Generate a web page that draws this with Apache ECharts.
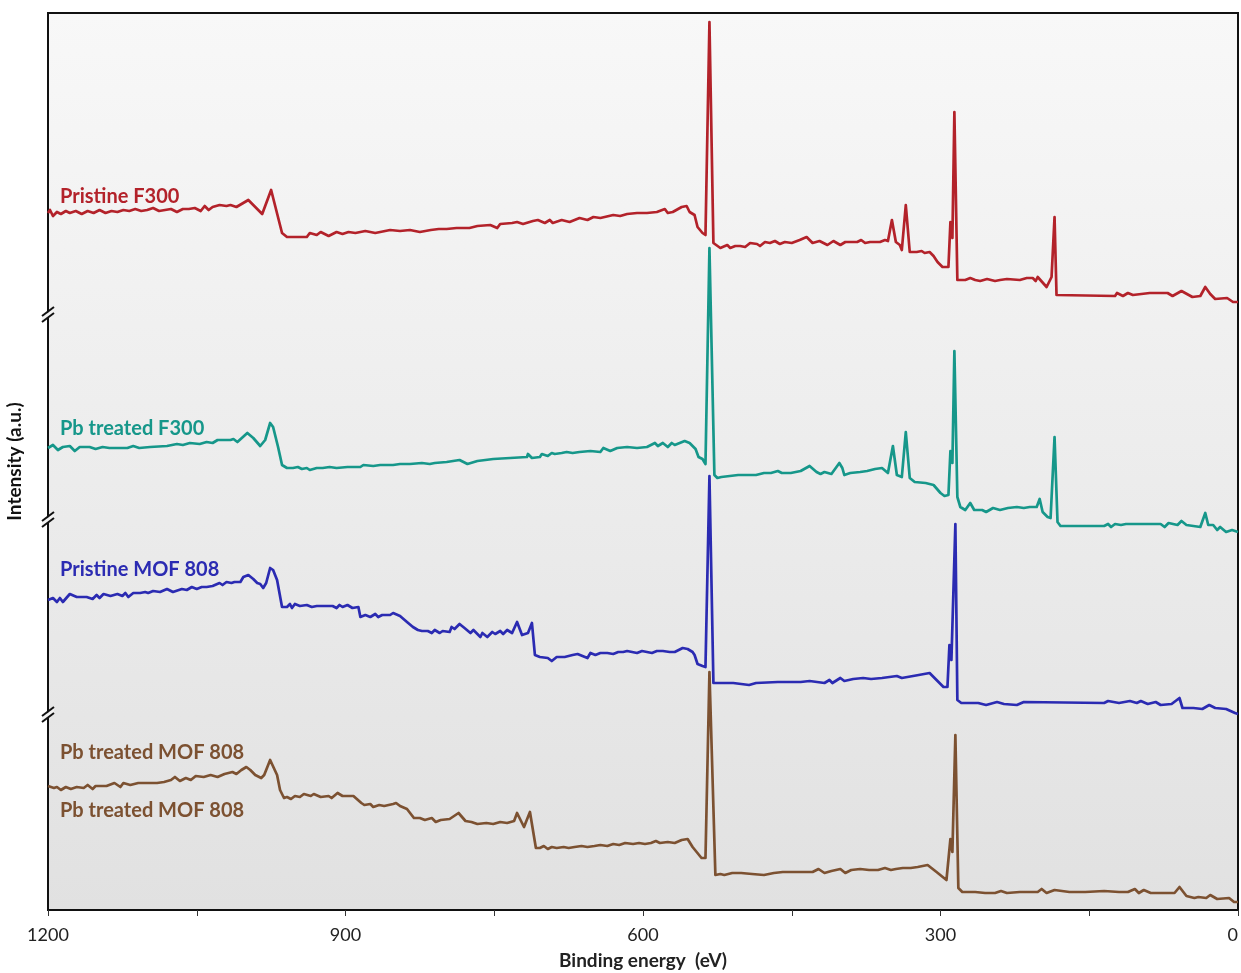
<!DOCTYPE html>
<html>
<head>
<meta charset="utf-8">
<script src="https://cdn.jsdelivr.net/npm/echarts@6/dist/echarts.min.js"></script>
<style>
  html, body { margin: 0; padding: 0; background: #ffffff; }
  #chart { width: 1241px; height: 973px; }
</style>
</head>
<body>
<div id="chart"></div>
<script>
// Binding energy (eV) and offset intensity (a.u.)
const xTicks = [1200, 900, 600, 300, 0];
const seriesNames = ['Pristine F300', 'Pb treated F300', 'Pristine MOF 808', 'Pb treated MOF 808'];
const seriesColors = ['#b3222a', '#16978a', '#2b2bb2', '#7c5131'];

const pristineF300 = [[1200,697],[1198,700],[1195,694],[1191,698],[1187,696],[1182,699],[1178,697],[1172,699],[1166,696],[1160,699],[1154,697],[1148,700],[1142,697],[1136,699],[1130,698],[1124,700],[1118,699],[1112,701],[1106,699],[1100,700],[1094,702],[1088,699],[1082,700],[1076,701],[1070,698],[1064,701],[1058,701],[1052,702],[1046,699],[1042,704],[1038,700],[1034,703],[1027,705],[1020,704],[1016,705],[1010,703],[998,710],[984,696],[975,720],[964,677],[959,673],[950,673],[939,673],[936,677],[929,675],[925,678],[917,674],[909,678],[903,676],[897,678],[890,677],[880,679],[870,677],[865,678],[855,680],[845,679],[835,680],[825,678],[814,680],[806,681],[798,681],[788,682],[775,682],[767,684],[754,685],[747,682],[744,686],[732,687],[727,688],[721,686],[711,689],[706,690],[699,687],[694,690],[691,687],[682,690],[674,688],[664,692],[656,690],[650,693],[643,692],[630,695],[623,694],[616,696],[606,697],[596,697],[586,698],[578,701],[575,697],[570,698],[561,703],[556,704],[553,698],[548,695],[545,683],[540,677],[537,675],[533,888],[529,667],[522,662],[515,665],[512,662],[507,664],[502,664],[497,663],[492,667],[485,666],[482,664],[477,668],[472,667],[467,669],[462,666],[457,668],[450,667],[442,670],[435,673],[429,667],[422,669],[414,665],[408,669],[401,665],[396,668],[384,668],[380,670],[376,667],[371,668],[361,668],[356,670],[353,669],[349,690],[345,668],[341,665],[339,660],[335,705],[331,658],[324,658],[319,659],[316,657],[311,658],[307,654],[303,648],[298,643],[292,643],[290,688],[288,672],[286,798],[283,630],[275,630],[270,632],[265,630],[260,629],[253,631],[245,629],[240,630],[233,631],[220,630],[213,632],[207,632],[204,629],[202,633],[193,623],[188,633],[185,693],[183,615],[124,614],[122,617],[116,614],[111,617],[106,615],[89,617],[71,617],[66,614],[57,619],[46,613],[38,614],[33,623],[28,616],[23,611],[11,612],[5,608],[0,608]];

const pbTreatedF300 = [[1200,462],[1198,463],[1195,465],[1190,460],[1185,463],[1178,464],[1173,459],[1168,463],[1158,463],[1152,461],[1145,463],[1138,462],[1120,462],[1114,464],[1108,462],[1097,463],[1080,464],[1070,466],[1064,465],[1057,467],[1047,466],[1040,468],[1034,467],[1029,470],[1016,470],[1013,471],[1009,468],[999,477],[993,472],[986,464],[981,470],[976,487],[973,483],[968,463],[964,445],[959,442],[953,442],[948,443],[944,441],[939,442],[936,440],[929,442],[923,442],[916,443],[909,442],[898,443],[885,443],[882,445],[872,444],[865,445],[852,445],[845,446],[835,446],[823,447],[815,446],[810,447],[798,448],[785,450],[777,446],[767,449],[751,451],[717,453],[716,456],[712,452],[704,453],[702,456],[696,454],[692,457],[689,456],[682,457],[677,458],[671,457],[664,458],[653,459],[643,458],[640,462],[633,459],[626,462],[616,463],[606,462],[596,463],[588,467],[585,464],[580,467],[575,463],[571,467],[568,465],[558,469],[553,467],[547,461],[544,453],[540,451],[537,446],[533,662],[528,435],[525,432],[521,433],[504,435],[493,435],[486,435],[478,437],[471,437],[464,439],[460,437],[451,437],[441,439],[432,444],[425,438],[421,436],[417,438],[410,436],[402,447],[399,442],[397,435],[391,437],[381,438],[374,439],[366,441],[359,442],[353,437],[348,464],[344,435],[339,433],[335,478],[331,432],[326,428],[315,427],[307,425],[300,417],[296,414],[292,415],[290,459],[288,447],[286,559],[283,413],[280,403],[275,400],[270,407],[266,400],[258,400],[254,398],[247,402],[240,400],[232,402],[223,403],[216,402],[210,403],[203,403],[200,411],[197,398],[192,393],[189,392],[185,473],[182,388],[179,384],[135,384],[131,386],[128,383],[124,386],[118,385],[113,386],[78,386],[76,388],[74,383],[70,387],[61,385],[57,389],[52,385],[38,383],[33,397],[30,385],[25,385],[21,380],[18,383],[12,378],[6,380],[0,378]];

const pristineMOF808 = [[1200,310],[1199,310],[1195,312],[1191,308],[1188,312],[1185,308],[1178,316],[1171,313],[1161,313],[1155,311],[1151,315],[1148,312],[1144,316],[1137,314],[1130,316],[1125,314],[1122,317],[1119,313],[1114,317],[1107,317],[1102,318],[1099,317],[1094,319],[1087,318],[1080,321],[1074,318],[1065,321],[1060,320],[1055,323],[1050,321],[1045,323],[1040,323],[1034,324],[1027,327],[1024,325],[1020,328],[1015,327],[1012,328],[1006,328],[1003,333],[998,335],[993,331],[989,327],[986,326],[983,322],[980,327],[976,342],[973,340],[969,330],[964,303],[959,303],[956,306],[954,302],[951,306],[946,304],[939,305],[934,303],[929,304],[913,304],[909,302],[906,305],[903,303],[898,305],[893,302],[887,303],[885,293],[880,295],[875,293],[870,296],[867,293],[863,295],[855,295],[852,297],[845,294],[838,288],[832,283],[827,280],[823,279],[817,279],[813,277],[810,280],[805,277],[802,279],[795,278],[793,283],[790,281],[785,286],[780,282],[774,277],[771,280],[764,273],[762,277],[757,273],[752,278],[749,276],[744,279],[741,276],[737,280],[732,277],[727,288],[722,275],[716,277],[712,287],[709,255],[704,253],[696,252],[692,249],[687,253],[679,253],[677,255],[671,255],[666,256],[656,252],[653,257],[648,255],[643,257],[636,257],[630,256],[625,258],[620,258],[616,259],[606,257],[601,259],[596,258],[591,257],[586,259],[580,259],[573,258],[568,258],[560,262],[555,261],[550,258],[548,255],[545,246],[540,244],[537,243],[533,434],[529,227],[527,227],[512,227],[509,227],[493,225],[486,227],[464,228],[441,228],[432,229],[417,227],[412,230],[409,227],[401,232],[397,229],[388,231],[378,232],[370,231],[359,232],[344,234],[339,232],[322,235],[311,237],[304,230],[297,223],[293,223],[291,265],[289,250],[285,386],[283,210],[279,207],[262,207],[254,205],[243,208],[236,206],[223,205],[216,208],[135,207],[131,209],[120,207],[109,209],[102,207],[98,209],[91,206],[83,208],[78,205],[67,206],[59,212],[56,202],[45,202],[36,201],[29,205],[23,202],[12,201],[3,197],[0,196]];

const pbTreatedMOF808 = [[1200,124],[1194,122],[1191,123],[1187,120],[1182,123],[1177,121],[1171,123],[1164,122],[1160,125],[1155,121],[1152,124],[1141,124],[1133,127],[1127,123],[1124,127],[1117,125],[1109,127],[1101,127],[1090,127],[1083,128],[1076,130],[1072,133],[1067,129],[1061,132],[1056,130],[1051,134],[1043,133],[1036,135],[1029,133],[1022,136],[1014,138],[1010,136],[1005,140],[1000,143],[996,140],[991,135],[985,132],[982,135],[976,150],[969,135],[966,120],[962,112],[959,113],[955,111],[951,114],[946,113],[942,116],[935,114],[932,116],[925,113],[917,114],[914,112],[908,117],[903,114],[892,114],[884,107],[881,105],[875,106],[872,103],[866,105],[861,104],[852,106],[849,107],[845,104],[838,101],[831,92],[825,92],[820,90],[813,92],[809,88],[804,90],[795,91],[786,97],[779,89],[773,88],[767,86],[758,87],[751,86],[744,88],[737,87],[730,89],[727,97],[720,83],[714,98],[708,62],[704,62],[700,64],[696,61],[692,63],[687,62],[680,63],[675,62],[669,63],[662,64],[656,63],[649,64],[643,65],[636,64],[630,66],[624,65],[618,67],[610,66],[604,67],[598,66],[592,67],[587,69],[583,67],[575,68],[568,67],[561,70],[555,71],[550,63],[541,52],[537,52],[533,238],[527,35],[522,36],[518,35],[510,37],[501,37],[490,36],[478,35],[468,37],[459,38],[445,38],[429,38],[423,41],[417,37],[410,39],[401,41],[396,37],[390,40],[381,41],[372,40],[363,40],[356,42],[350,40],[345,41],[338,42],[330,42],[323,43],[313,45],[304,38],[294,30],[290,71],[288,58],[285,175],[282,22],[278,18],[265,18],[255,17],[245,17],[239,19],[233,17],[220,18],[202,18],[198,21],[193,17],[185,20],[170,18],[154,18],[135,19],[120,18],[111,18],[104,21],[100,17],[95,20],[88,17],[75,17],[64,17],[59,23],[52,14],[44,12],[40,13],[32,12],[28,15],[21,11],[9,12],[4,8],[0,8]];

const allData = [pristineF300, pbTreatedF300, pristineMOF808, pbTreatedMOF808];

const chart = echarts.init(document.getElementById('chart'), null, { renderer: 'canvas' });

const FONT = 'Lato, "Open Sans", "DejaVu Sans", sans-serif';

function breakMark(y) {
  return {
    type: 'group',
    x: 48, y: y, z: 100,
    children: [
      { type: 'polygon', shape: { points: [[-6, 6], [6, -3], [6, 2], [-6, 11]] }, style: { fill: '#f3f3f3' }, z: 100 },
      { type: 'line', shape: { x1: -6, y1: 5, x2: 6, y2: -4 }, style: { stroke: '#111', lineWidth: 2 }, z: 101 },
      { type: 'line', shape: { x1: -6, y1: 11, x2: 6, y2: 2 }, style: { stroke: '#111', lineWidth: 2 }, z: 101 }
    ]
  };
}

function label(text, y, color) {
  return {
    type: 'text', x: 60, y: y, z: 50,
    style: { text: text, fill: color, fontFamily: FONT, fontWeight: 'bold', fontSize: 20, verticalAlign: 'middle', align: 'left' }
  };
}

const option = {
  animation: false,
  backgroundColor: '#ffffff',
  grid: {
    left: 48, right: 3, top: 13, bottom: 63,
    outerBoundsMode: 'none',
    containLabel: false,
    show: true,
    borderColor: '#111111',
    borderWidth: 2,
    backgroundColor: {
      type: 'linear', x: 0, y: 0, x2: 0, y2: 1,
      colorStops: [{ offset: 0, color: '#f8f8f8' }, { offset: 1, color: '#e1e1e1' }]
    }
  },
  xAxis: {
    type: 'value',
    inverse: true,
    min: 0, max: 1200, interval: 150,
    name: 'Binding energy  (eV)',
    nameLocation: 'middle',
    nameGap: 41,
    nameTextStyle: { fontFamily: FONT, fontWeight: 'bold', fontSize: 19, color: '#222' },
    axisLine: { show: true, lineStyle: { color: '#111', width: 2 } },
    axisTick: { show: true, length: 6, lineStyle: { color: '#333', width: 1 } },
    axisLabel: {
      fontFamily: FONT, fontSize: 18, color: '#222', margin: 16,
      alignMinLabel: 'right',
      formatter: v => (xTicks.indexOf(v) >= 0 ? String(v) : '')
    },
    splitLine: { show: false }
  },
  yAxis: {
    type: 'value',
    min: 0, max: 897,
    name: 'Intensity (a.u.)',
    nameLocation: 'middle',
    nameGap: 24,
    nameTextStyle: { fontFamily: FONT, fontWeight: 'bold', fontSize: 19, color: '#111' },
    axisLine: { show: false },
    axisTick: { show: false },
    axisLabel: { show: false },
    splitLine: { show: false }
  },
  series: allData.map((d, i) => ({
    name: seriesNames[i],
    type: 'line',
    data: d,
    showSymbol: false,
    symbol: 'none',
    lineStyle: { color: seriesColors[i], width: 2.7, join: 'round' },
    z: 10 - i
  })),
  graphic: [
    label('Pristine F300', 197, seriesColors[0]),
    label('Pb treated F300', 429, seriesColors[1]),
    label('Pristine MOF 808', 570, seriesColors[2]),
    label('Pb treated MOF 808', 753, seriesColors[3]),
    label('Pb treated MOF 808', 811, seriesColors[3]),
    breakMark(311),
    breakMark(516),
    breakMark(711)
  ]
};

chart.setOption(option);
</script>
</body>
</html>
